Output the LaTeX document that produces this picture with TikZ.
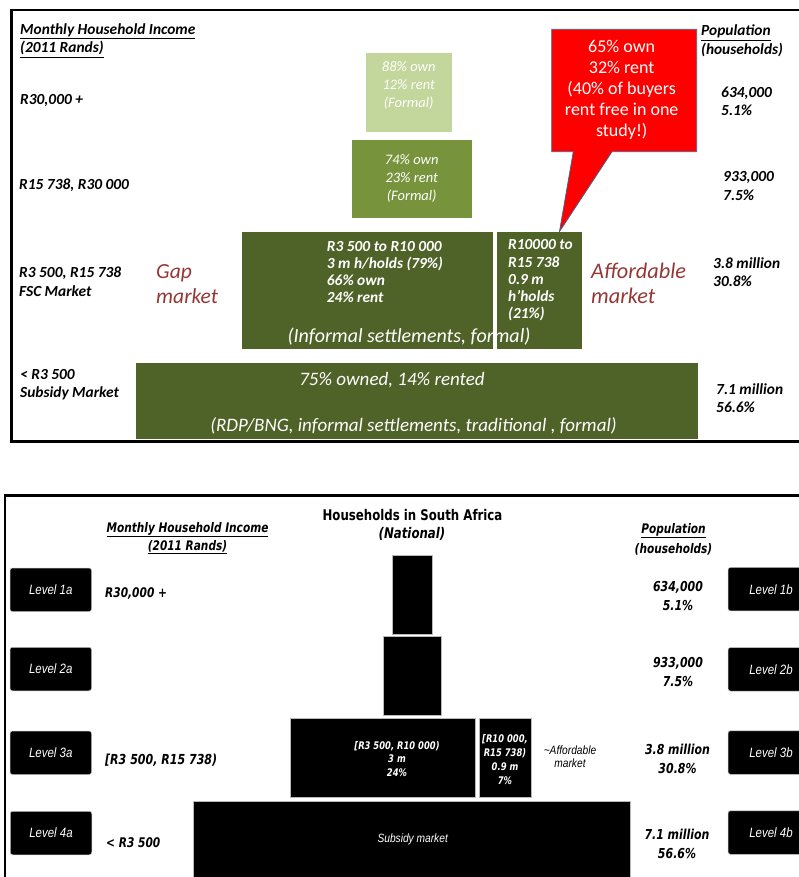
\documentclass[tikz,border=0pt]{standalone}
\usepackage{fontspec}
\setmainfont{Carlito}
\newfontfamily\tah[FakeStretch=0.8]{DejaVu Sans}
\newfontfamily\nar[FakeStretch=0.85]{Liberation Sans}
\newcommand\setfs[2]{\fontsize{#1}{#2}\selectfont}
\definecolor{greenA}{HTML}{C3D69B}
\definecolor{greenB}{HTML}{77933C}
\definecolor{greenC}{HTML}{4F6228}
\definecolor{gapred}{HTML}{953735}
\definecolor{calloutedge}{HTML}{4A5F8A}
\tikzset{
  box/.style={rectangle, inner sep=0pt, outer sep=0pt, draw=none},
  lbl/.style={inner sep=0pt, anchor=west, align=left, font=\setfs{15.4}{18.5}\bfseries\itshape},
  boxtxt/.style={inner sep=0pt, text=white, align=center},
  mkt/.style={inner sep=0pt, anchor=west, align=left, text=gapred, font=\setfs{21.5}{25}\itshape},
  blk/.style={rectangle, fill=black, draw=gray!55, line width=0.6pt, inner sep=0pt, outer sep=0pt},
  lvl/.style={rectangle, rounded corners=2.5pt, fill=black, draw=gray!50, line width=0.5pt,
    text=white, font=\nar\itshape\setfs{13.5}{16}, minimum height=43.5pt, inner sep=0pt},
  btxt/.style={inner sep=0pt, align=center, font=\tah\bfseries\itshape\setfs{13.7}{19}},
  bwhite/.style={inner sep=0pt, align=center, text=white, font=\tah\bfseries\itshape\setfs{10.5}{13.8}}
}
\begin{document}
\begin{tikzpicture}[x=1pt,y=-1pt]
\useasboundingbox (0,0) rectangle (798,877);

% ---------- upper chart: housing tenure by income band ----------
\draw[line width=2.2pt] (801,10) -- (11.5,10) -- (11.5,441.5) -- (801,441.5);

\node[lbl] (incHead) at (20,40.5) {\underline{Monthly Household Income}\\\underline{(2011 Rands)}};
\node[lbl] (inc1) at (20,100) {R30,000 +};
\node[lbl] (inc2) at (19,185) {R15 738, R30 000};
\node[lbl] (inc3) at (19,281.5) {R3 500, R15 738\\FSC Market};
\node[lbl] (inc4) at (20,384.5) {< R3 500\\Subsidy Market};

\node[lbl] (popHead) at (701,41) {\underline{Population}\\(households)};
\node[lbl] (pop1) at (721,101.5) {634,000\\5.1\%};
\node[lbl] (pop2) at (723,186) {933,000\\7.5\%};
\node[lbl] (pop3) at (713,272) {3.8 million\\30.8\%};
\node[lbl] (pop4) at (716,398) {7.1 million\\56.6\%};

\node[mkt] (gap) at (156,284.5) {Gap\\market};
\node[mkt, font=\setfs{22.3}{25}\itshape] (aff) at (591,283.5) {Affordable\\market};

% pyramid tiers
\node[box, fill=greenA, minimum width=86pt, minimum height=78.4pt] (tier1) at (408.7,92.5) {};
\node[box, fill=greenB, minimum width=119.4pt, minimum height=77.7pt] (tier2) at (412,178.85) {};
\node[box, fill=greenC, minimum width=251.6pt, minimum height=116.7pt] (tier3a) at (367.5,290.65) {};
\node[box, fill=greenC, minimum width=85pt, minimum height=116.7pt] (tier3b) at (539.2,290.65) {};
\node[box, fill=greenC, minimum width=562pt, minimum height=76.3pt] (tier4) at (417,400.85) {};
\draw[white, dotted, line width=0.8pt] (tier3b.north west) -- (tier3b.south west);

\node[boxtxt, font=\setfs{14.5}{18}\itshape] (t1txt) at (408.7,86) {88\% own\\12\% rent\\(Formal)};
\node[boxtxt, font=\setfs{14.5}{18.2}\itshape] (t2txt) at (411.7,178.7) {74\% own\\23\% rent\\(Formal)};
\node[boxtxt, anchor=west, align=left, font=\setfs{15.4}{17}\bfseries\itshape] (t3atxt) at (326.7,272)
  {R3 500 to R10 000\\3 m h/holds (79\%)\\66\% own\\24\% rent};
\node[boxtxt, anchor=west, align=left, font=\setfs{15.4}{17.3}\bfseries\itshape] (t3btxt) at (508,280.5)
  {R10000 to\\R15 738\\0.9 m\\h’holds\\(21\%)};
\node[boxtxt, font=\setfs{20}{24}\itshape] (t3note) at (409,337) {(Informal settlements, formal)};
\node[boxtxt, font=\setfs{19}{23}\itshape] (t4txt) at (392,380) {75\% owned, 14\% rented};
\node[boxtxt, font=\setfs{19}{23}\itshape] (t4note) at (413.5,426) {(RDP/BNG, informal settlements, traditional , formal)};

% speech callout pointing at the affordable tier
\draw[fill=red, draw=calloutedge, line width=0.8pt]
  (551.7,29.3) -- (696.7,29.3) -- (696.7,151.7) -- (612,151.7) -- (559.5,231.5)
  -- (573.3,151.7) -- (551.7,151.7) -- cycle;
\node[boxtxt, font=\setfs{18}{21}] (callout) at (621.7,90) {65\% own\\32\% rent\\(40\% of buyers\\rent free in one\\study!)};

% ---------- lower chart: households in South Africa ----------
\draw[line width=3pt] (5,495) -- (801,495);
\draw[line width=2.2pt] (5,493.5) -- (5,880);

\node[btxt, font=\tah\bfseries\setfs{14.7}{19}] (title) at (412.5,515) {Households in South Africa};
\node[btxt, font=\tah\bfseries\itshape\setfs{14.7}{19}] (subtitle) at (412,534) {(National)};

\node[btxt, font=\tah\bfseries\itshape\setfs{13.2}{18}] (bIncHead) at (187.5,538) {\underline{Monthly Household Income}\\\underline{(2011 Rands)}};
\node[btxt, font=\tah\bfseries\itshape\setfs{13.2}{20}] (bPopHead) at (673.5,539) {\underline{Population}\\(households)};

\node[lvl, minimum width=81.5pt] (l1a) at (50.75,589.75) {Level 1a};
\node[lvl, minimum width=81.5pt] (l2a) at (50.75,669) {Level 2a};
\node[lvl, minimum width=81.5pt] (l3a) at (50.75,752.75) {Level 3a};
\node[lvl, minimum width=81.5pt] (l4a) at (51,833) {Level 4a};
\node[lvl, minimum width=86pt] (l1b) at (771,589.2) {Level 1b};
\node[lvl, minimum width=86pt] (l2b) at (771,669.3) {Level 2b};
\node[lvl, minimum width=86pt] (l3b) at (771,752.5) {Level 3b};
\node[lvl, minimum width=86pt] (l4b) at (771,832.5) {Level 4b};

\node[btxt, anchor=west, font=\tah\bfseries\itshape\setfs{13.3}{18}] (bInc1) at (105,593.3) {R30,000 +};
\node[btxt, anchor=west, font=\tah\bfseries\itshape\setfs{13.8}{18}] (bInc3) at (105,760) {{[}R3 500, R15 738)};
\node[btxt, anchor=west, font=\tah\bfseries\itshape\setfs{13.3}{18}] (bInc4) at (106,842.3) {< R3 500};

\node[btxt] (bPop1) at (678,596) {634,000\\5.1\%};
\node[btxt] (bPop2) at (678,672.5) {933,000\\7.5\%};
\node[btxt] (bPop3) at (677.5,759) {3.8 million\\30.8\%};
\node[btxt] (bPop4) at (677,843.5) {7.1 million\\56.6\%};

\node[blk, minimum width=39.6pt, minimum height=79pt] (b1) at (412.5,594.5) {};
\node[blk, minimum width=58pt, minimum height=78.3pt] (b2) at (412.3,675.85) {};
\node[blk, minimum width=185pt, minimum height=78.7pt] (b3a) at (383.2,757.65) {};
\node[blk, minimum width=52pt, minimum height=78.7pt] (b3b) at (505,757.65) {};
\node[blk, minimum width=437.4pt, minimum height=84pt] (b4) at (412,843) {};

\node[bwhite] (b3atxt) at (397,759) {{[}R3 500, R10 000)\\3 m\\24\%};
\node[bwhite] (b3btxt) at (505,759.7) {{[}R10 000,\\R15 738)\\0.9 m\\7\%};
\node[inner sep=0pt, text=white, font=\nar\itshape\setfs{12}{14}] (b4txt) at (412.7,839.3) {Subsidy market};
\node[inner sep=0pt, align=center, font=\nar\itshape\setfs{12}{12.6}] (affNote) at (570,757) {\textasciitilde Affordable\\market};
\end{tikzpicture}
\end{document}
